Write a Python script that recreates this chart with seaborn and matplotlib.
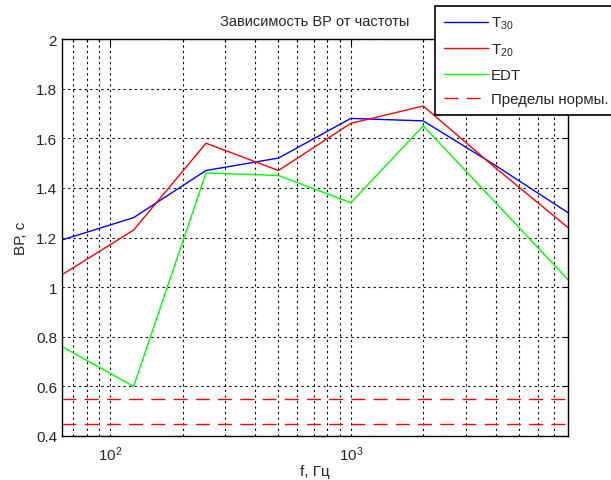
import matplotlib
matplotlib.use("Agg")
import matplotlib.pyplot as plt
import seaborn as sns
import pandas as pd
import numpy as np
from matplotlib.ticker import LogLocator, NullFormatter, FixedLocator

freqs = [63, 125, 250, 500, 1000, 2000, 4000, 8000]
t30 = [1.19, 1.28, 1.47, 1.52, 1.68, 1.67, 1.49, 1.30]
t20 = [1.05, 1.23, 1.58, 1.47, 1.66, 1.73, 1.48, 1.24]
edt = [0.76, 0.60, 1.46, 1.45, 1.34, 1.65, 1.34, 1.03]
norm_upper = 0.55
norm_lower = 0.45
y_ticks = [0.4, 0.6, 0.8, 1.0, 1.2, 1.4, 1.6, 1.8, 2.0]
y_tick_labels = ["0.4", "0.6", "0.8", "1", "1.2", "1.4", "1.6", "1.8", "2"]

sns.set_style("white")
plt.rcParams['font.family'] = ['Liberation Sans', 'DejaVu Sans']
plt.rcParams['mathtext.default'] = 'regular'
plt.rcParams['mathtext.fontset'] = 'custom'
plt.rcParams['mathtext.rm'] = 'Liberation Sans'

fig = plt.figure(figsize=(6.11, 4.81), dpi=100)
ax = fig.add_axes([62/611, 1-437/481, (568-62)/611, (437-40)/481])

df = pd.DataFrame({"f": freqs, "T30": t30, "T20": t20, "EDT": edt})
sns.lineplot(data=df, x="f", y="T30", ax=ax, color="#0000ff", lw=1.0, label="$T_{30}$")
sns.lineplot(data=df, x="f", y="T20", ax=ax, color="#ff0000", lw=1.0, label="$T_{20}$")
sns.lineplot(data=df, x="f", y="EDT", ax=ax, color="#00ff00", lw=1.0, label="EDT")
ax.axhline(norm_upper, color="#ff0000", lw=1.0, ls=(0, (10, 6)), label="Пределы нормы.")
ax.axhline(norm_lower, color="#ff0000", lw=1.0, ls=(0, (10, 6)))

ax.set_xscale("log")
ax.set_xlim(63, 8000)
ax.set_ylim(0.4, 2.0)
ax.set_yticks(y_ticks)
ax.set_yticklabels(y_tick_labels)
ax.xaxis.set_major_locator(FixedLocator([100, 1000]))
ax.xaxis.set_minor_locator(LogLocator(base=10, subs=np.arange(2, 10)))
ax.xaxis.set_minor_formatter(NullFormatter())
ax.set_xticklabels(["$10^{2}$", "$10^{3}$"])

ax.grid(True, which="both", axis="x", color="black", ls=(0, (2, 3)), lw=0.8)
ax.grid(True, which="major", axis="y", color="black", ls=(0, (2, 3)), lw=0.8)
ax.tick_params(direction="in", which="both", top=True, right=True, labelsize=11,
               length=4, width=0.8, color="black")
ax.tick_params(axis="x", which="major", pad=6)
ax.tick_params(which="minor", length=2)
for s in ax.spines.values():
    s.set_color("black")
    s.set_linewidth(1.0)

ax.set_title("Зависимость ВР от частоты", fontsize=10.5, pad=10)
ax.set_xlabel("f, Гц", fontsize=11, labelpad=1)
ax.set_ylabel("ВР, с", fontsize=11, labelpad=6)

leg = ax.legend(loc="upper left", bbox_to_anchor=(435/611, 1-7/481),
                bbox_transform=fig.transFigure, fontsize=10.8, frameon=True,
                fancybox=False, borderaxespad=0, handlelength=2.95,
                labelspacing=0.68, borderpad=0.6, handletextpad=0.2)
leg.get_frame().set_edgecolor("black")
leg.get_frame().set_linewidth(1.2)
leg.get_frame().set_alpha(1)

fig.savefig("out.png", dpi=100)
